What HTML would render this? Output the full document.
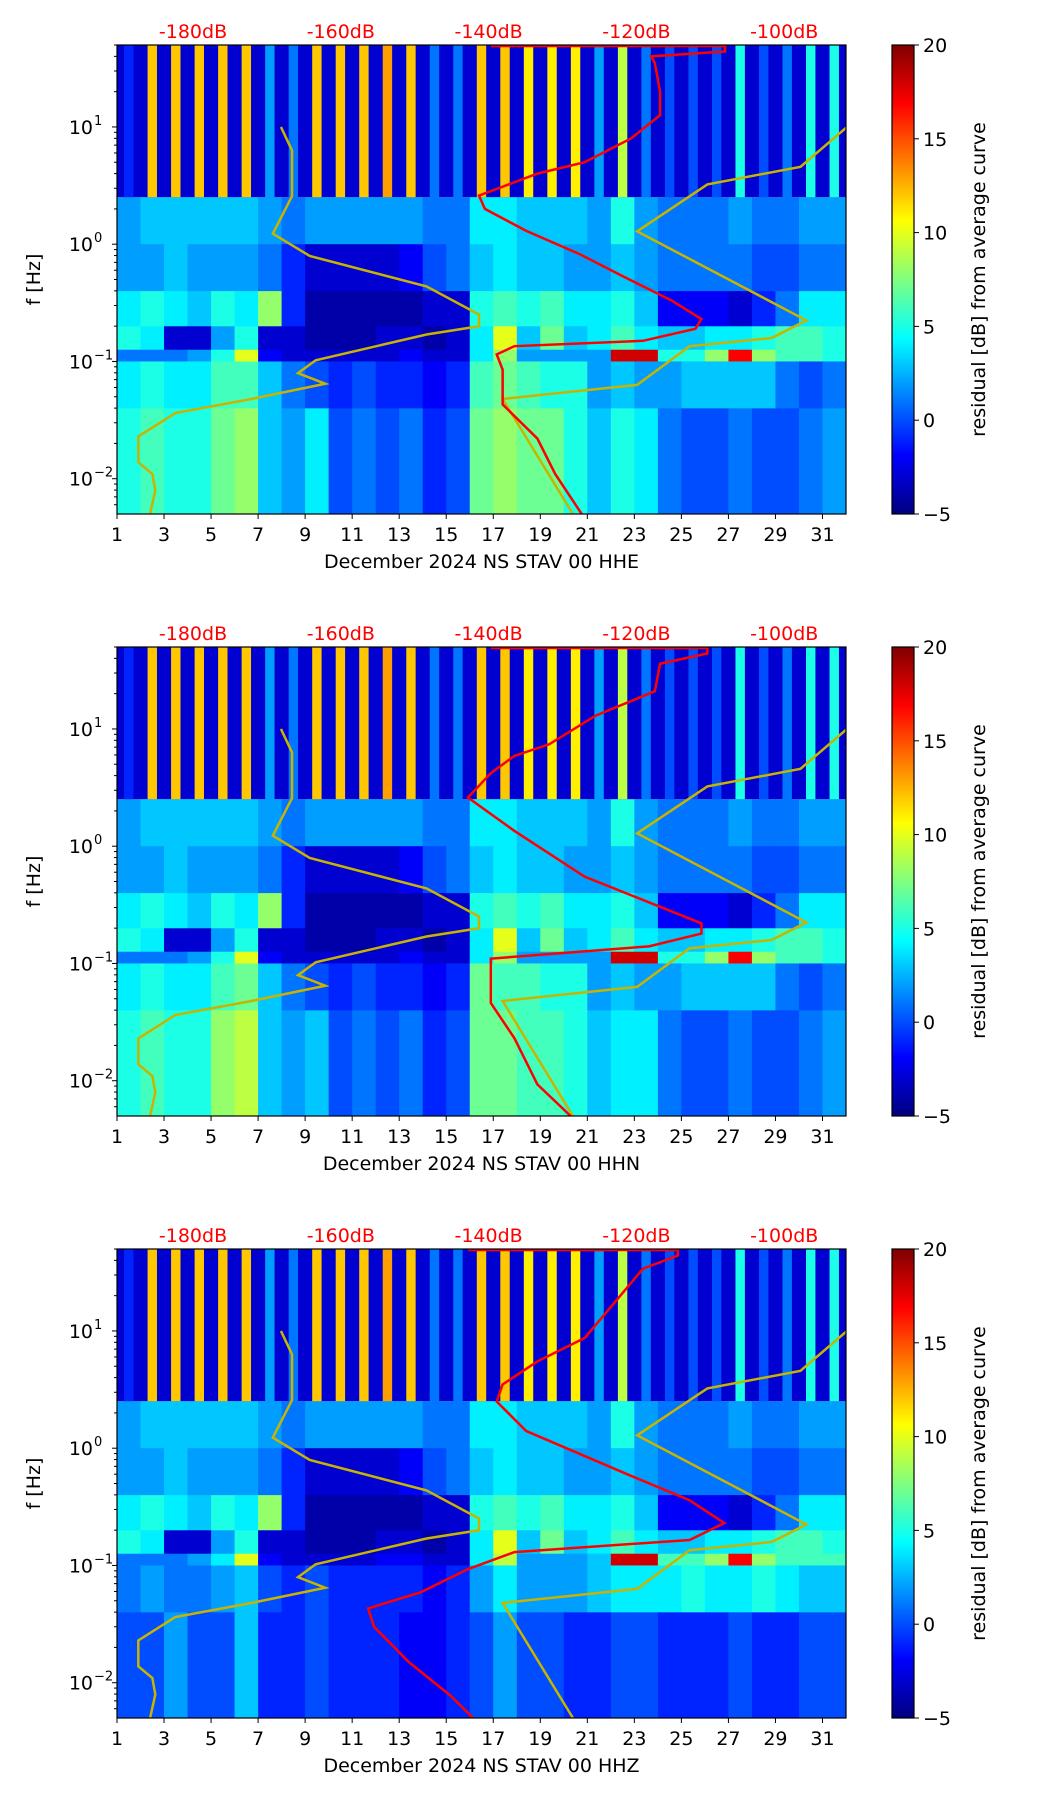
<!DOCTYPE html>
<html><head><meta charset="utf-8">
<style>
html,body{margin:0;padding:0;background:#fff;}
svg text{font-family:"DejaVu Sans","Liberation Sans",sans-serif;}
</style></head>
<body>
<svg id="fig" width="1052" height="1806" viewBox="0 0 1052 1806" xmlns="http://www.w3.org/2000/svg">
<defs>
<linearGradient id="jetgrad" x1="0" y1="1" x2="0" y2="0">
<stop offset="0" stop-color="#00007f"/><stop offset="0.125" stop-color="#0000ff"/>
<stop offset="0.375" stop-color="#00ffff"/><stop offset="0.625" stop-color="#ffff00"/>
<stop offset="0.875" stop-color="#ff0000"/><stop offset="1" stop-color="#7f0000"/>
</linearGradient>
</defs>
</svg>
<script>
// ---- data ----
const dayTicks = [1,3,5,7,9,11,13,15,17,19,21,23,25,27,29,31];
const freqTickExp = [1,0,-1,-2];
const dbTicks = [-180,-160,-140,-120,-100];
const cbTicks = [-5,0,5,10,15,20];
const bandEdgesLog = [1.699,0.4,0,-0.4,-0.7,-0.9,-1.0,-1.4,-2.301];
const panelTitles = ["December 2024 NS STAV 00 HHE","December 2024 NS STAV 00 HHN","December 2024 NS STAV 00 HHZ"];

const hheRows = [
[-1,12,12,12,12,12,2,1,12,12,12,13,12,1,1,12,12,11,11,11,2,9,1,0,0,0,5,0,1,5,5],
[2,3,3,3,3,3,2,1,2,2,2,2,2,1,1,4,4,3,3,3,2,5,2,1,1,1,2,1,1,2,2],
[2,2,3,2,2,2,1,-1,-3,-3,-3,-3,-2,0,1,3,4,3,3,2,2,3,2,1,1,1,1,0,0,1,1],
[4,5,4,3,5,4,8,-1,-4,-4,-4,-4,-4,-3,-3,5,6,5,6,4,4,5,3,-2,-2,-2,-3,-1,1,4,4],
[5,4,-3,-3,2,5,-3,-3,-4,-4,-4,-3,-3,-4,-3,4,10,3,7,3,4,6,4,3,3,4,4,5,6,6,5],
[1,1,1,2,5,10,-2,-3,-3,-3,-3,-3,-2,-3,-3,4,8,2,2,2,2,18,18,5,5,8,17,8,6,6,5],
[4,5,4,4,6,6,3,1,0,-1,0,-1,-1,-2,-1,6,7,6,5,5,2,3,2,2,3,3,3,3,1,0,1],
[5,6,5,5,7,8,3,2,4,0,1,0,1,-1,0,7,8,7,7,5,3,5,4,1,0,0,1,0,0,1,2]];
const hhnRows = [
[-1,12,12,12,12,12,2,1,12,12,12,13,12,1,1,12,12,11,11,11,2,9,1,0,0,0,5,0,1,5,5],
[2,3,3,3,3,3,2,1,2,2,2,2,2,1,1,4,4,3,3,3,2,5,2,1,1,1,2,1,1,2,2],
[2,2,3,2,2,2,1,-1,-3,-3,-3,-3,-2,0,1,3,4,3,3,2,2,3,2,1,1,1,1,0,0,1,1],
[4,5,4,3,5,4,8,-1,-4,-4,-4,-4,-4,-3,-3,5,6,5,6,4,4,5,3,-2,-2,-2,-3,-1,1,4,4],
[5,4,-3,-3,2,5,-3,-3,-4,-4,-4,-3,-3,-4,-3,4,10,3,7,3,4,6,4,3,3,4,4,5,6,6,5],
[1,1,1,2,5,10,-2,-3,-3,-3,-3,-3,-2,-3,-3,4,8,2,2,2,2,18,18,5,5,8,17,8,6,6,5],
[4,5,4,4,6,7,3,1,0,-1,0,-1,-1,-2,-1,7,6,6,5,5,2,3,2,2,3,3,3,3,1,0,1],
[5,6,5,5,8,9,3,2,3,0,1,0,1,-1,0,7,7,6,6,5,3,4,4,1,0,0,1,0,0,1,2]];
const hhzRows = [
[-1,12,12,12,12,12,2,1,12,12,12,13,12,1,1,12,12,11,11,11,2,9,1,0,0,0,5,0,1,5,5],
[2,3,3,3,3,3,2,1,2,2,2,2,2,1,1,4,4,3,3,3,2,5,2,1,1,1,2,1,1,2,2],
[2,2,3,2,2,2,1,-1,-3,-3,-3,-3,-2,0,1,3,4,3,3,2,2,3,2,1,1,1,1,0,0,1,1],
[4,5,4,3,5,4,8,-1,-4,-4,-4,-4,-4,-3,-3,5,6,5,6,4,4,5,3,-2,-2,-2,-3,-1,1,4,4],
[5,4,-3,-3,2,5,-3,-3,-4,-4,-4,-3,-3,-4,-3,4,10,3,7,3,4,6,4,3,3,4,4,5,6,6,5],
[1,1,1,2,4,10,-2,-3,-3,-3,-3,-2,-2,-3,-3,4,9,2,2,2,3,18,18,6,6,8,17,8,6,6,6],
[1,2,1,1,2,3,0,-1,0,-1,-1,-1,-1,-2,-1,2,4,2,2,2,3,4,4,4,5,4,4,5,4,3,3],
[0,0,2,0,0,3,-1,-1,0,-1,-1,-1,-2,-2,-1,0,2,0,0,-1,-1,0,0,-1,-1,-1,0,-1,-1,0,0]];

const hheRedF  = [49,49,44,40,35,20,12.6,8,5,4,2.6,2.0,1.3,0.83,0.52,0.33,0.23,0.19,0.15,0.135,0.115,0.085,0.06,0.043,0.022,0.011,0.005];
const hheRedDb = [-139.7,-108,-108,-118,-117.5,-116.8,-116.8,-120.7,-127,-133.4,-141.3,-140.5,-134.9,-127.8,-121.5,-115.2,-111.2,-112,-119.1,-136.5,-138.9,-138.1,-138.1,-138.1,-133.4,-131,-127.4];
const hhnRedF  = [49,49,44,36,21,13,7.4,5.9,4.2,2.6,1.35,0.55,0.22,0.18,0.14,0.11,0.046,0.023,0.0093,0.005];
const hhnRedDb = [-139.7,-110.4,-110.4,-116.8,-117.5,-125.5,-131.8,-136.5,-139.7,-142.8,-136.5,-127,-111.2,-111.2,-118.3,-139.7,-139.7,-136.5,-133.4,-128.9];
const hhzRedF  = [49,49,44,34,8.7,5.5,3.5,2.5,1.4,0.58,0.36,0.23,0.165,0.13,0.093,0.059,0.043,0.030,0.015,0.0078,0.005];
const hhzRedDb = [-142.8,-114.4,-114.4,-119.1,-127,-133.4,-138.1,-138.9,-134.9,-120.7,-112.8,-108.1,-112.8,-136.5,-142.8,-149.2,-156.3,-155.5,-150.8,-145.2,-142.1];

const lowModelLogF = [1.0,0.80,0.41,0.09,-0.10,-0.36,-0.60,-0.70,-0.77,-0.99,-1.10,-1.19,-1.32,-1.44,-1.64,-1.86,-1.96,-2.10,-2.30];
const lowModelDb   = [-168.1,-166.6,-166.6,-169.2,-164.2,-148.4,-141.3,-141.3,-148.4,-163.4,-165.8,-162.1,-172.1,-182.4,-187.4,-187.4,-185.5,-185.1,-185.8];
const highModelLogF = [1.0,0.66,0.51,0.11,-0.65,-0.80,-0.87,-1.20,-1.32,-2.30];
const highModelDb   = [-91.5,-97.8,-110.4,-119.9,-97.0,-101.7,-112.8,-119.9,-138.1,-128.6];

// ---- layout ----
const svg = document.getElementById('fig');
const NS = 'http://www.w3.org/2000/svg';
const L = 117, R = 846, PH = 469;
const panelTops = [45, 647, 1249];
const CBL = 892, CBR = 914;
const FS = 19;
function mk(tag, attrs, parent){ const e=document.createElementNS(NS,tag); for(const k in attrs) e.setAttribute(k,attrs[k]); (parent||svg).appendChild(e); return e; }
function jet(v){ let t=(v+5)/25; t=Math.max(0,Math.min(1,t));
  const c=x=>Math.round(255*Math.max(0,Math.min(1,x)));
  return `rgb(${c(1.5-Math.abs(4*t-3))},${c(1.5-Math.abs(4*t-2))},${c(1.5-Math.abs(4*t-1))})`; }
function xDay(d){ return L + (d-1)*(R-L)/31; }
function xDb(db){ return 193 + (db+180)*7.39; }

const allRows=[hheRows,hhnRows,hhzRows];
const allRedF=[hheRedF,hhnRedF,hhzRedF];
const allRedDb=[hheRedDb,hhnRedDb,hhzRedDb];

panelTops.forEach((T,pi)=>{
  const yLog = lf => T + (1.699-lf)*PH/4;
  const g = mk('g',{});
  
  
  const clipId='clip'+pi;
  const cp=mk('clipPath',{id:clipId},svg); mk('rect',{x:L,y:T,width:R-L,height:PH},cp);
  const hm = mk('g',{'clip-path':`url(#${clipId})`},g);
  
  
  const rows = allRows[pi];
  rows.forEach((row,ri)=>{
    const y0=yLog(bandEdgesLog[ri]), y1=yLog(bandEdgesLog[ri+1]);
    row.forEach((v,di)=>{
      const d=di+1;
      if(ri===0){
        const bg=mk('rect',{x:xDay(d),y:y0,width:xDay(d+1)-xDay(d)+0.5,height:y1-y0,fill:jet(-3)},hm);
        
        
        const s=mk('rect',{x:xDay(d+0.3),y:y0,width:xDay(d+0.7)-xDay(d+0.3),height:y1-y0,fill:jet(v)},hm);
        
        
      } else {
        const c=mk('rect',{x:xDay(d),y:y0,width:xDay(d+1)-xDay(d)+0.5,height:y1-y0+0.5,fill:jet(v)},hm);
        
        
      }
    });
  });
  const lowPts = lowModelLogF.map((lf,i)=>xDb(lowModelDb[i])+','+yLog(lf)).join(' ');
  const lo=mk('polyline',{points:lowPts,fill:'none',stroke:'#c8b400','stroke-width':2.5},hm);
  
  
  const hiPts = highModelLogF.map((lf,i)=>xDb(highModelDb[i])+','+yLog(lf)).join(' ');
  const hi=mk('polyline',{points:hiPts,fill:'none',stroke:'#c8b400','stroke-width':2.5},hm);
  
  
  const rf=allRedF[pi], rd=allRedDb[pi];
  const redPts = rf.map((f,i)=>xDb(rd[i])+','+yLog(Math.log10(f))).join(' ');
  const red=mk('polyline',{points:redPts,fill:'none',stroke:'#ff0000','stroke-width':2.5},hm);
  
  
  const fr=mk('rect',{x:L,y:T,width:R-L,height:PH,fill:'none',stroke:'#000','stroke-width':1.2},g);
  
  
  dayTicks.forEach(d=>{
    const x=xDay(d);
    mk('line',{x1:x,y1:T+PH,x2:x,y2:T+PH+5,stroke:'#000'},g);
    const t=mk('text',{x:x,y:T+PH+27,'text-anchor':'middle','font-size':FS},g); t.textContent=d;
    
    
  });
  const xl=mk('text',{x:(L+R)/2,y:T+PH+54,'text-anchor':'middle','font-size':FS},g); xl.textContent=panelTitles[pi];
  
  
  for(let e=-3;e<=1;e++){ for(let m=1;m<10;m++){ const lf=e+Math.log10(m); if(lf<-2.301||lf>1.699) continue;
    const y=yLog(lf); mk('line',{x1:L-(m===1?5:3),y1:y,x2:L,y2:y,stroke:'#000'},g);} }
  freqTickExp.forEach(e=>{
    const y=yLog(e);
    const t=mk('text',{x:L-24,y:y+7,'text-anchor':'end','font-size':FS},g);
    t.textContent='10';
    
    
    const s=mk('text',{x:L-23,y:y-2,'text-anchor':'start','font-size':13},g);
    s.textContent=(e<0?'\u2212':'')+Math.abs(e);
  });
  const yl=mk('text',{x:40,y:T+PH/2,'text-anchor':'middle','font-size':FS,transform:`rotate(-90 40 ${T+PH/2})`},g); yl.textContent='f [Hz]';
  
  
  dbTicks.forEach(db=>{
    const t=mk('text',{x:xDb(db),y:T-7,'text-anchor':'middle','font-size':FS,fill:'#ff0000'},g); t.textContent=db+'dB';
    
    
  });
  const cb=mk('rect',{x:CBL,y:T,width:CBR-CBL,height:PH,fill:'url(#jetgrad)',stroke:'#000','stroke-width':1.2},g);
  
  
  cbTicks.forEach(v=>{
    const y=T+PH-(v+5)/25*PH;
    mk('line',{x1:CBR,y1:y,x2:CBR+5,y2:y,stroke:'#000'},g);
    const t=mk('text',{x:CBR+9,y:y+7,'font-size':FS},g); t.textContent=(v<0?'\u2212':'')+Math.abs(v);
    
    
  });
  const cl=mk('text',{x:985,y:T+PH/2,'text-anchor':'middle','font-size':FS,transform:`rotate(-90 985 ${T+PH/2})`},g);
  cl.textContent='residual [dB] from average curve';
  
  
});
</script>
</body></html>
